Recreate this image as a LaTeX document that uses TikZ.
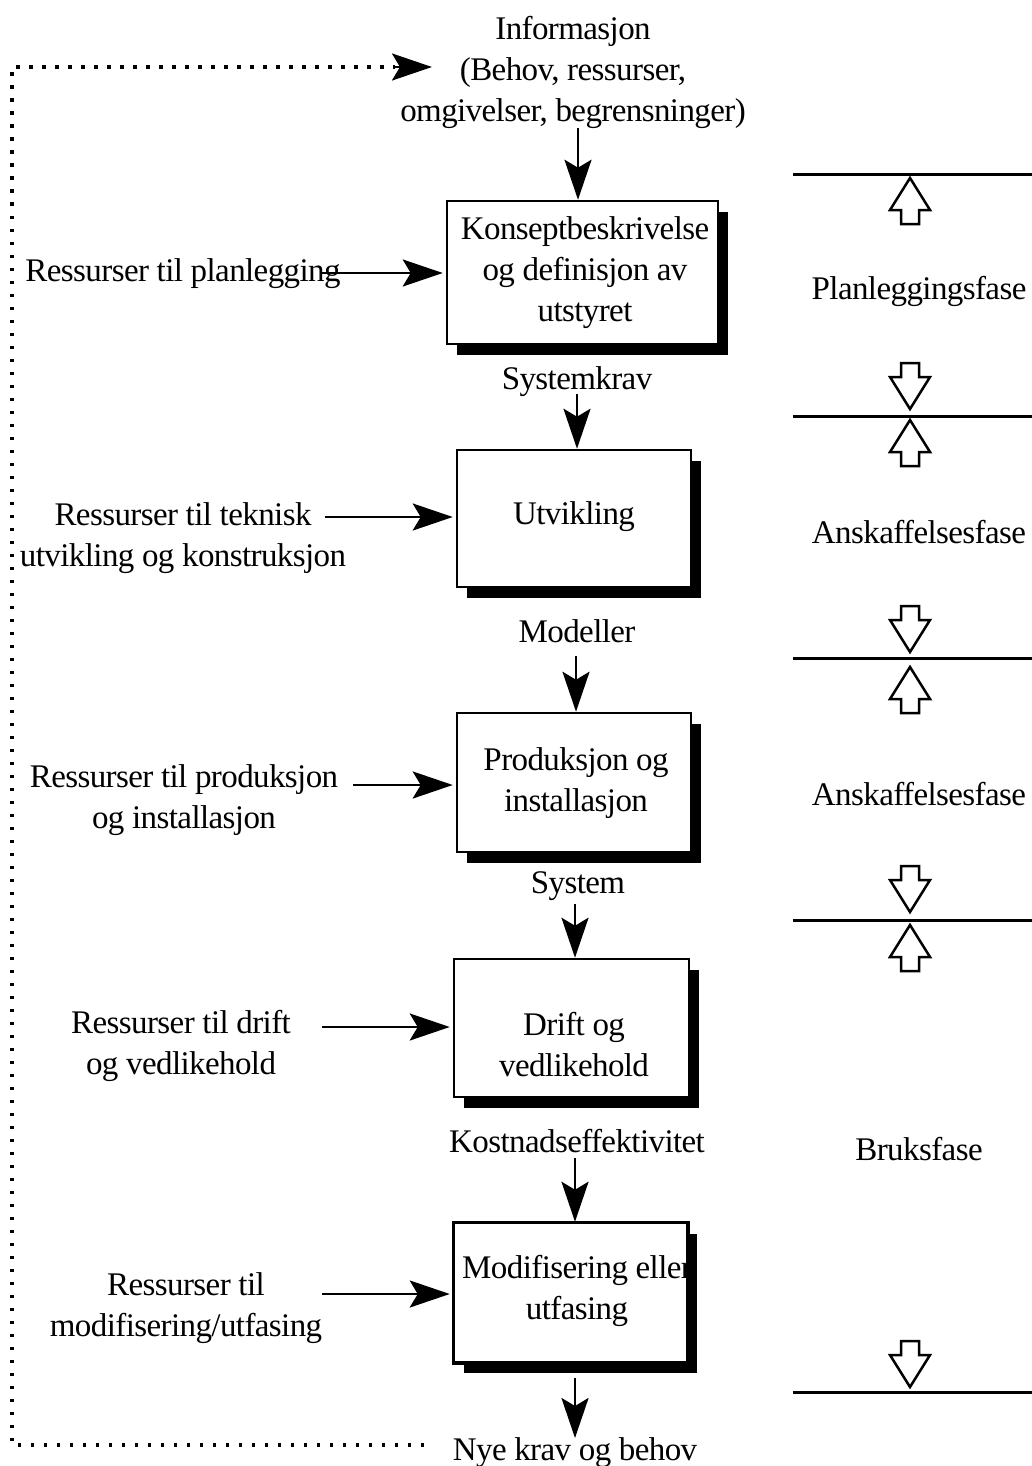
\documentclass[tikz,border=0pt]{standalone}
\usepackage{fontspec}
\setmainfont{Liberation Serif}[LetterSpace=-1.8]
\usetikzlibrary{arrows.meta,shadows}
\begin{document}
\begin{tikzpicture}[x=1pt,y=-1pt,
  every node/.style={font=\fontsize{33}{41}\selectfont, inner sep=0pt, align=center},
  box/.style={draw, line width=2.5pt, fill=white, inner sep=0pt,
    drop shadow={shadow xshift=10pt, shadow yshift=-11pt, fill=black, opacity=1}},
  arr/.style={line width=2.8pt, -{Stealth[length=40pt,width=27pt,inset=8pt]}},
  phaseline/.style={line width=3pt},
  fb/.style={line width=3.5pt, dash pattern=on 3.5pt off 9.5pt},
  hollow/.style={line width=2.5pt, fill=white, line join=miter},
  uparrow/.pic={\draw[hollow] (0,0) -- (20,32) -- (9,32) -- (9,46) -- (-9,46) -- (-9,32) -- (-20,32) -- cycle;},
  dnarrow/.pic={\draw[hollow] (0,0) -- (20,-32) -- (9,-32) -- (9,-46) -- (-9,-46) -- (-9,-32) -- (-20,-32) -- cycle;}
]
\useasboundingbox (0,0) rectangle (1032,1466);

% top information
\node (info) at (573,72) {Informasjon\\(Behov, ressurser,\\omgivelser, begrensninger)};

% boxes
\node[box, minimum width=271pt, minimum height=143pt] (b1) at (582.5,272.5) {};
\node[box, minimum width=234pt, minimum height=137pt] (b2) at (574,518.5) {};
\node[box, minimum width=234pt, minimum height=139pt] (b3) at (574,782.5) {};
\node[box, minimum width=235pt, minimum height=138pt] (b4) at (571.5,1028) {};
\node[box, minimum width=233pt, minimum height=139pt] (b5) at (570.5,1292.5) {};

\node (t1) at (585,273) {Konseptbeskrivelse\\og definisjon av\\utstyret};
\node (t2) at (574,517) {Utvikling};
\node (t3) at (576,783) {Produksjon og\\installasjon};
\node (t4) at (574,1045) {Drift og\\vedlikehold};
\begin{scope}
  \clip (b5.south west) rectangle (b5.north east);
  \node[anchor=west] (t5) at (462,1291) {Modifisering eller\\utfasing};
\end{scope}
\draw[line width=2.5pt] (b5.south west) rectangle (b5.north east);

% labels between boxes
\node (l1) at (577,382) {Systemkrav};
\node (l2) at (577,631) {Modeller};
\node (l3) at (578,886) {System};
\node (l4) at (577,1141) {Kostnadseffektivitet};
\node (l5) at (575,1453) {Nye krav og behov};

% vertical arrows
\coordinate (a1) at (578,128);
\coordinate (a2) at (577,394);
\coordinate (a3) at (576,656);
\coordinate (a4) at (575,904);
\coordinate (a5) at (575,1158);
\coordinate (a6) at (575,1378);
\coordinate (a6e) at (575,1438);
\draw[arr] (a1) -- (a1 |- b1.north);
\draw[arr] (a2) -- (a2 |- b2.north);
\draw[arr] (a3) -- (a3 |- b3.north);
\draw[arr] (a4) -- (a4 |- b4.north);
\draw[arr] (a5) -- (a5 |- b5.north);
\draw[arr] (a6) -- (a6e);

% left resource texts
\node (r1) at (183,274) {Ressurser til planlegging};
\node (r2) at (183,538) {Ressurser til teknisk\\utvikling og konstruksjon};
\node (r3) at (184,800) {Ressurser til produksjon\\og installasjon};
\node (r4) at (181,1046) {Ressurser til drift\\og vedlikehold};
\node (r5) at (186,1308) {Ressurser til\\modifisering/utfasing};

\coordinate (s1) at (322,273);
\coordinate (s2) at (325,517);
\coordinate (s3) at (353,785);
\coordinate (s4) at (322,1027);
\coordinate (s5) at (322,1294);
\draw[arr, shorten >=3pt] (s1) -- (s1 -| b1.west);
\draw[arr, shorten >=3pt] (s2) -- (s2 -| b2.west);
\draw[arr, shorten >=3pt] (s3) -- (s3 -| b3.west);
\draw[arr, shorten >=3pt] (s4) -- (s4 -| b4.west);
\draw[arr, shorten >=3pt] (s5) -- (s5 -| b5.west);

% feedback dotted line
\coordinate (fbs) at (424,1445);
\coordinate (fbe) at (432,67);
\draw[fb] (fbs) -- (12,1445) -- (12,67) -- (395,67);
\draw[arr] (394,67) -- (fbe);

% right phase column
\foreach \yy in {175,416,658,920,1392} \draw[phaseline] (793,\yy) -- (1032,\yy);
\foreach \yy in {178,420,667,925} \pic at (910,\yy) {uparrow};
\foreach \yy in {409,652,912,1387} \pic at (910,\yy) {dnarrow};

\node (p1) at (919,291) {Planleggingsfase};
\node (p2) at (919,532) {Anskaffelsesfase};
\node (p3) at (919,794) {Anskaffelsesfase};
\node (p4) at (919,1149) {Bruksfase};
\end{tikzpicture}
\end{document}
